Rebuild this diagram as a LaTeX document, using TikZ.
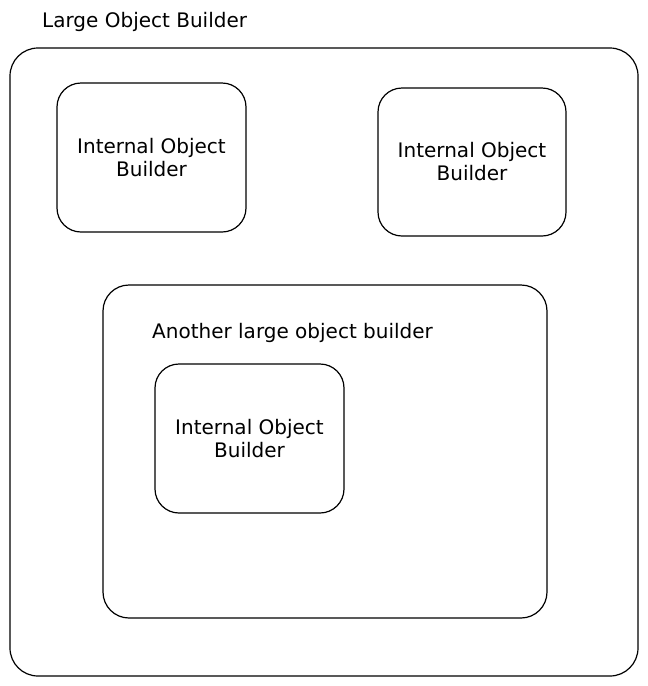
\documentclass[tikz,border=0pt]{standalone}
\usepackage{fontspec}
\setmainfont{DejaVu Sans}
\usetikzlibrary{positioning}

\begin{document}
\begin{tikzpicture}[x=1pt,y=-1pt]
\tikzstyle{builder}=[draw,line width=1.2pt,rounded corners=24pt,align=center,inner sep=0pt,font=\fontsize{20}{23}\selectfont]
\tikzstyle{caption}=[anchor=west,inner sep=0pt,font=\fontsize{20}{22}\selectfont]
\useasboundingbox (0,0) rectangle (648,686);

\node[builder,rounded corners=28pt,minimum width=628pt,minimum height=628pt] (large) at (324,362) {};
\node[caption] (largelbl) at (42,22) {Large Object Builder};

\node[builder,minimum width=189pt,minimum height=149pt] (inner1) at (151.5,157.5) {Internal Object\\Builder};
\node[builder,minimum width=188pt,minimum height=148pt] (inner2) at (472,162) {Internal Object\\Builder};

\node[builder,rounded corners=26pt,minimum width=444pt,minimum height=333pt] (another) at (325,451.5) {};
\node[caption] (anotherlbl) at (152,333) {Another large object builder};
\node[builder,minimum width=189pt,minimum height=149pt] (inner3) at (249.5,438.5) {Internal Object\\Builder};
\end{tikzpicture}
\end{document}
